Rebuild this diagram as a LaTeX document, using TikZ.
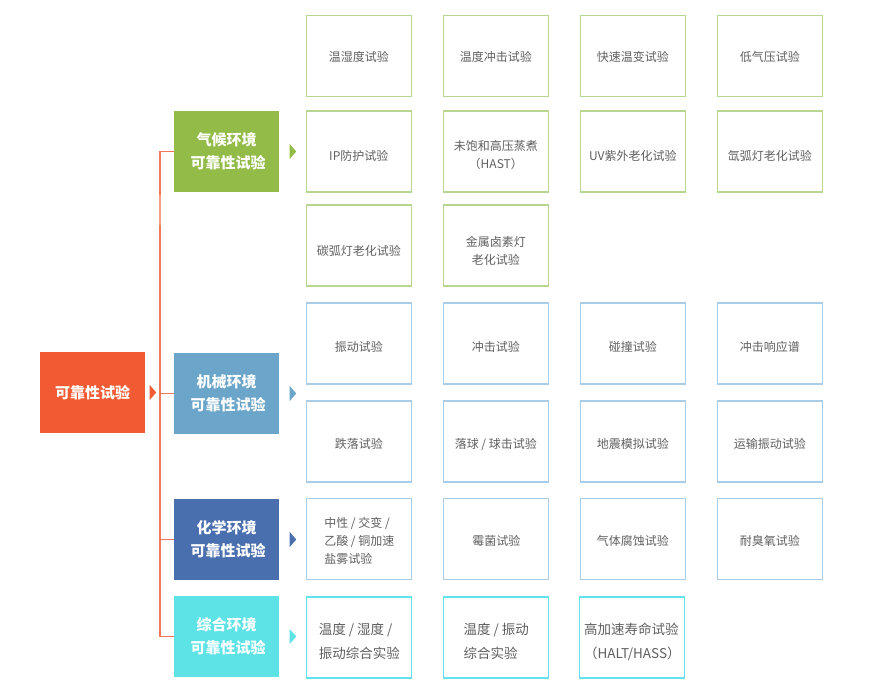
\documentclass[tikz,border=0pt]{standalone}
\usepackage{fontspec}
\setmainfont{Noto Sans CJK SC}
\usetikzlibrary{calc}
\definecolor{rootc}{HTML}{F15A32}
\definecolor{trunkc}{HTML}{F2765A}
\definecolor{trunkl}{HTML}{F8A08C}
\definecolor{grc}{HTML}{92BB48}
\definecolor{grb}{HTML}{B8D690}
\definecolor{mec}{HTML}{6BA5CA}
\definecolor{meb}{HTML}{A9CDE8}
\definecolor{chc}{HTML}{4A6FAF}
\definecolor{syc}{HTML}{5DE2E6}
\definecolor{syb}{HTML}{62E2EA}
\definecolor{txt}{HTML}{606060}
\tikzset{
  boxbase/.style={rectangle, minimum width=105pt, minimum height=81pt, inner sep=0pt, line width=1.3pt, fill=white},
  gbox/.style={boxbase, draw=grb},
  mbox/.style={boxbase, draw=meb},
  sbox/.style={boxbase, draw=syb},
  btext/.style={inner sep=0pt, text=txt, font=\fontsize{12}{18}\selectfont, align=center},
  ltext/.style={btext, align=left},
  stext/.style={btext, font=\fontsize{13.5}{24}\selectfont, align=left},
  catbox/.style={rectangle, minimum width=105pt, minimum height=81pt, inner sep=0pt, text=white, font=\fontsize{15}{23}\selectfont\bfseries, align=center},
  trunk/.style={draw=trunkc, line width=1.4pt},
}
\newcommand{\tri}[3]{% node, offset, color
  \fill[#3] ($(#1.east)+(#2,-7.5)$) -- ++(6.5,7.5) -- ++(-6.5,7.5) -- cycle;}
% box style, name, x, y, text shift, text style, text
\newcommand{\bx}[7]{%
  \node[#1] (#2) at (#3,#4) {};
  \node[#6] (#2t) at ($(#2.center)+(0,#5)$) {#7};}
\begin{document}
\begin{tikzpicture}[x=1pt,y=-1pt]
\useasboundingbox (0,0) rectangle (887,695);
\fill[white] (0,0) rectangle (887,695);
% root
\node[catbox, fill=rootc] (root) at (92.5,392.5) {可靠性试验};
% categories
\node[catbox, fill=grc] (gcat) at (226.5,151.5) {气候环境\\\ 可靠性试验};
\node[catbox, fill=mec] (mcat) at (226.5,393.5) {机械环境\\\ 可靠性试验};
\node[catbox, fill=chc] (ccat) at (226.5,539.5) {化学环境\\\ 可靠性试验};
\node[catbox, fill=syc] (scat) at (226.5,636.5) {综合环境\\\ 可靠性试验};
% trunk
\coordinate (tk) at (160,392);
\draw[trunk] (gcat.west) -- (gcat.west -| tk) -- (scat.west -| tk) -- (scat.west);
\draw[trunk] (mcat.west -| tk) -- (mcat.west);
\draw[trunk] (ccat.west -| tk) -- (ccat.west);
\draw[trunkl, line width=2.6pt] ($(gcat.west -| tk)+(0,44)$) -- ($(gcat.west -| tk)+(0,74)$);
% triangles
\tri{root}{4.5}{rootc}
\tri{gcat}{10.5}{grc}
\tri{mcat}{10.5}{mec}
\tri{ccat}{10.5}{chc}
\tri{scat}{10.5}{syc}
% climate boxes
\bx{gbox}{g11}{358.8}{56}{1}{btext}{温湿度试验}
\bx{gbox}{g12}{495.8}{56}{1}{btext}{温度冲击试验}
\bx{gbox}{g13}{632.8}{56}{1}{btext}{快速温变试验}
\bx{gbox}{g14}{769.8}{56}{1}{btext}{低气压试验}
\bx{gbox}{g21}{358.8}{151.5}{4}{btext}{IP防护试验}
\bx{gbox}{g22}{495.8}{151.5}{4}{btext}{未饱和高压蒸煮\\（HAST）}
\bx{gbox}{g23}{632.8}{151.5}{4}{btext}{UV紫外老化试验}
\bx{gbox}{g24}{769.8}{151.5}{4}{btext}{氙弧灯老化试验}
\bx{gbox}{g31}{358.8}{245.5}{5}{btext}{碳弧灯老化试验}
\bx{gbox}{g32}{495.8}{245.5}{5}{btext}{金属卤素灯\\老化试验}
% mechanical boxes
\bx{mbox}{m11}{358.8}{343.5}{3}{btext}{振动试验}
\bx{mbox}{m12}{495.8}{343.5}{3}{btext}{冲击试验}
\bx{mbox}{m13}{632.8}{343.5}{3}{btext}{碰撞试验}
\bx{mbox}{m14}{769.8}{343.5}{3}{btext}{冲击响应谱}
\bx{mbox}{m21}{358.8}{441.5}{2.5}{btext}{跌落试验}
\bx{mbox}{m22}{495.8}{441.5}{2.5}{btext}{落球 / 球击试验}
\bx{mbox}{m23}{632.8}{441.5}{2.5}{btext}{地震模拟试验}
\bx{mbox}{m24}{769.8}{441.5}{2.5}{btext}{运输振动试验}
% chemical boxes
\bx{mbox}{c1}{359.3}{539}{2}{ltext}{中性 / 交变 /\\乙酸 / 铜加速\\盐雾试验}
\bx{mbox}{c2}{496.3}{539}{1.5}{btext}{霉菌试验}
\bx{mbox}{c3}{632.8}{539}{1.5}{btext}{气体腐蚀试验}
\bx{mbox}{c4}{769.8}{539}{1.5}{btext}{耐臭氧试验}
% combined boxes
\bx{sbox}{s1}{359.3}{637.5}{4}{stext}{温度 / 湿度 /\\振动综合实验}
\bx{sbox}{s2}{496.3}{637.5}{4}{stext}{温度 / 振动\\综合实验}
\bx{sbox}{s3}{632.3}{637.5}{4}{stext}{高加速寿命试验\\（HALT/HASS）}
\end{tikzpicture}
\end{document}
